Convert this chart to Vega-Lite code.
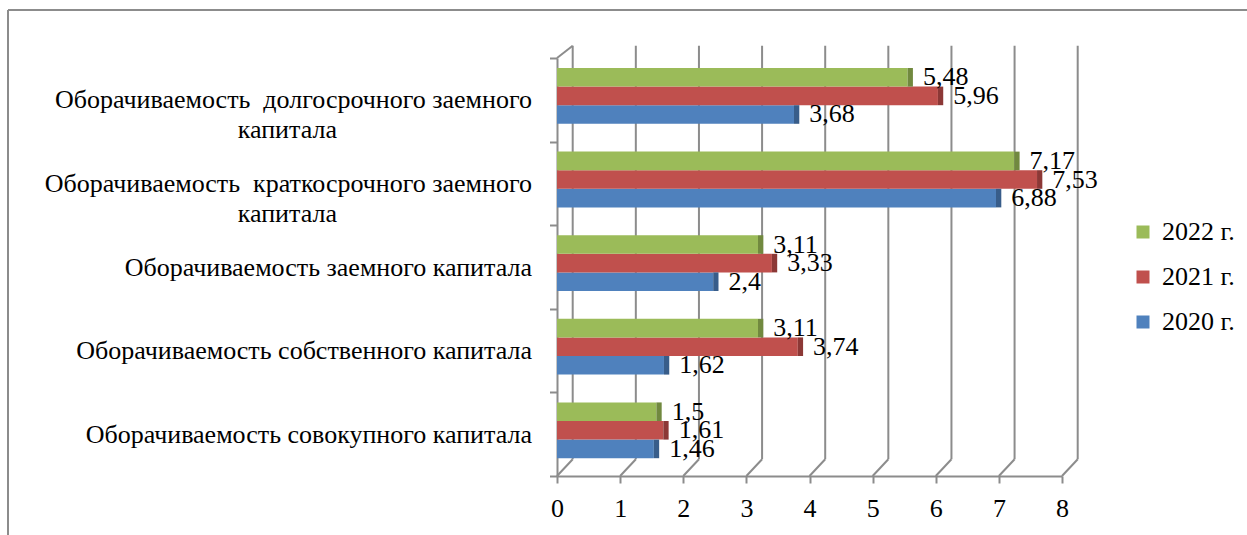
{
  "$schema": "https://vega.github.io/schema/vega-lite/v6.json",
  "width": 505,
  "height": 418,
  "autosize": "none",
  "padding": {"left": 557, "top": 58, "right": 185, "bottom": 59},
  "config": {
    "font": "Liberation Serif",
    "view": {"stroke": null},
    "locale": {"number": {"decimal": ",", "thousands": "\u00a0", "grouping": [3], "currency": ["", ""]}}
  },
  "layer": [
    {
      "data": {"values": [{"v": 0}]},
      "layer": [
        {
          "mark": {"type": "rule", "color": "#8c8c8c", "strokeWidth": 2, "xOffset": -549, "x2Offset": 185, "yOffset": -48},
          "encoding": {
            "x": {"value": 0},
            "x2": {"value": "width"},
            "y": {"value": 0}
          }
        },
        {
          "mark": {"type": "rule", "color": "#8c8c8c", "strokeWidth": 2, "xOffset": -549, "yOffset": -48, "y2Offset": 59},
          "encoding": {
            "x": {"value": 0},
            "y": {"value": 0},
            "y2": {"value": "height"}
          }
        },
        {
          "mark": {"type": "rule", "color": "#8c8c8c", "strokeWidth": 2, "x2Offset": 15.7, "y2Offset": -12.3},
          "encoding": {
            "x": {
              "field": "v",
              "type": "quantitative",
              "scale": {"domain": [0, 8], "nice": false},
              "axis": {
                "title": null,
                "values": [0, 1, 2, 3, 4, 5, 6, 7, 8],
                "grid": false,
                "tickSize": 7,
                "tickWidth": 2,
                "tickColor": "#8c8c8c",
                "domainColor": "#8c8c8c",
                "domainWidth": 2,
                "labelFont": "Liberation Serif",
                "labelFontSize": 26,
                "labelColor": "#000000",
                "labelPadding": 12,
                "labelFlush": false
              }
            },
            "x2": {"field": "v"},
            "y": {"value": 0},
            "y2": {"value": 0}
          }
        }
      ]
    },
    {
      "data": {"values": [{"v": 0}, {"v": 1}, {"v": 2}, {"v": 3}, {"v": 4}, {"v": 5}, {"v": 6}, {"v": 7}, {"v": 8}]},
      "layer": [
        {
          "mark": {"type": "rule", "color": "#8c8c8c", "strokeWidth": 2, "xOffset": 15.7, "yOffset": -12.3, "y2Offset": -16.7},
          "encoding": {
            "x": {
              "field": "v",
              "type": "quantitative",
              "axis": {
                "title": null,
                "values": [0, 1, 2, 3, 4, 5, 6, 7, 8],
                "grid": false,
                "tickSize": 7,
                "tickWidth": 2,
                "tickColor": "#8c8c8c",
                "domainColor": "#8c8c8c",
                "domainWidth": 2,
                "labelFont": "Liberation Serif",
                "labelFontSize": 26,
                "labelColor": "#000000",
                "labelPadding": 12,
                "labelFlush": false
              }
            },
            "y": {"value": 0},
            "y2": {"value": "height"}
          }
        },
        {
          "mark": {"type": "rule", "color": "#8c8c8c", "strokeWidth": 2, "x2Offset": 15.7, "y2Offset": -16.7},
          "encoding": {
            "x": {
              "field": "v",
              "type": "quantitative",
              "axis": {
                "title": null,
                "values": [0, 1, 2, 3, 4, 5, 6, 7, 8],
                "grid": false,
                "tickSize": 7,
                "tickWidth": 2,
                "tickColor": "#8c8c8c",
                "domainColor": "#8c8c8c",
                "domainWidth": 2,
                "labelFont": "Liberation Serif",
                "labelFontSize": 26,
                "labelColor": "#000000",
                "labelPadding": 12,
                "labelFlush": false
              }
            },
            "x2": {"field": "v"},
            "y": {"value": "height"},
            "y2": {"value": "height"}
          }
        }
      ]
    },
    {
      "data": {
        "values": [
          {"cat": "Оборачиваемость  долгосрочного заемного капитала", "year": "2020 г.", "value": 3.68},
          {"cat": "Оборачиваемость  долгосрочного заемного капитала", "year": "2021 г.", "value": 5.96},
          {"cat": "Оборачиваемость  долгосрочного заемного капитала", "year": "2022 г.", "value": 5.48},
          {"cat": "Оборачиваемость  краткосрочного заемного капитала", "year": "2020 г.", "value": 6.88},
          {"cat": "Оборачиваемость  краткосрочного заемного капитала", "year": "2021 г.", "value": 7.53},
          {"cat": "Оборачиваемость  краткосрочного заемного капитала", "year": "2022 г.", "value": 7.17},
          {"cat": "Оборачиваемость заемного капитала", "year": "2020 г.", "value": 2.4},
          {"cat": "Оборачиваемость заемного капитала", "year": "2021 г.", "value": 3.33},
          {"cat": "Оборачиваемость заемного капитала", "year": "2022 г.", "value": 3.11},
          {"cat": "Оборачиваемость собственного капитала", "year": "2020 г.", "value": 1.62},
          {"cat": "Оборачиваемость собственного капитала", "year": "2021 г.", "value": 3.74},
          {"cat": "Оборачиваемость собственного капитала", "year": "2022 г.", "value": 3.11},
          {"cat": "Оборачиваемость совокупного капитала", "year": "2020 г.", "value": 1.46},
          {"cat": "Оборачиваемость совокупного капитала", "year": "2021 г.", "value": 1.61},
          {"cat": "Оборачиваемость совокупного капитала", "year": "2022 г.", "value": 1.5}
        ]
      },
      "encoding": {
        "y": {
          "field": "cat",
          "type": "nominal",
          "sort": [
            "Оборачиваемость  долгосрочного заемного капитала",
            "Оборачиваемость  краткосрочного заемного капитала",
            "Оборачиваемость заемного капитала",
            "Оборачиваемость собственного капитала",
            "Оборачиваемость совокупного капитала"
          ],
          "scale": {"paddingInner": 0, "paddingOuter": 0},
          "axis": {
            "title": null,
            "tickBand": "extent",
            "tickSize": 7.5,
            "tickWidth": 2,
            "tickColor": "#8c8c8c",
            "domainColor": "#8c8c8c",
            "domainWidth": 2,
            "labelFont": "Liberation Serif",
            "labelFontSize": 26,
            "labelColor": "#000000",
            "labelAlign": "right",
            "labelBaseline": "middle",
            "labelLineHeight": 30,
            "labelPadding": 18,
            "labelLimit": 0,
            "labelExpr": "!isString(datum.value) ? '' : indexof(datum.value, '  ') >= 0 ? [replace(slice(datum.value, 0, lastindexof(datum.value, ' ')), '  ', '\u00a0 '), slice(datum.value, lastindexof(datum.value, ' ') + 1) + '\u00a0\u00a0\u00a0\u00a0\u00a0\u00a0\u00a0\u00a0\u00a0\u00a0\u00a0\u00a0\u00a0\u00a0\u00a0\u00a0\u00a0\u00a0\u00a0\u00a0\u00a0\u00a0\u00a0\u00a0\u00a0\u00a0\u00a0\u00a0\u00a0\u00a0\u200b'] : datum.value"
          }
        },
        "yOffset": {
          "field": "year",
          "type": "nominal",
          "sort": ["2022 г.", "2021 г.", "2020 г."],
          "scale": {"paddingInner": 0, "paddingOuter": 0.748, "align": 0.36}
        },
        "x": {
          "field": "value",
          "type": "quantitative",
          "stack": null,
          "scale": {"domain": [0, 8], "nice": false},
          "axis": {
            "title": null,
            "values": [0, 1, 2, 3, 4, 5, 6, 7, 8],
            "grid": false,
            "tickSize": 7,
            "tickWidth": 2,
            "tickColor": "#8c8c8c",
            "domainColor": "#8c8c8c",
            "domainWidth": 2,
            "labelFont": "Liberation Serif",
            "labelFontSize": 26,
            "labelColor": "#000000",
            "labelPadding": 12,
            "labelFlush": false
          }
        }
      },
      "layer": [
        {
          "mark": {"type": "bar", "xOffset": 4.7, "x2Offset": 4.7},
          "encoding": {
            "color": {
              "field": "year",
              "type": "nominal",
              "scale": {"domain": ["2022 г.", "2021 г.", "2020 г."], "range": ["#9BBB59", "#C0504D", "#4F81BD"]},
              "legend": {
                "orient": "none",
                "legendX": 573,
                "legendY": 161,
                "title": null,
                "padding": 0,
                "symbolType": "square",
                "symbolSize": 169,
                "symbolStrokeWidth": 0,
                "labelFont": "Liberation Serif",
                "labelFontSize": 26,
                "labelColor": "#000000",
                "labelOffset": 6,
                "rowPadding": 19
              }
            }
          }
        },
        {
          "mark": {"type": "bar", "xOffset": 4.7, "x2Offset": 10},
          "encoding": {
            "x2": {"field": "value"},
            "fill": {
              "condition": [
                {"test": "datum.year === '2022 г.'", "value": "#71893F"},
                {"test": "datum.year === '2021 г.'", "value": "#8C3836"}
              ],
              "value": "#385D8A"
            }
          }
        },
        {
          "mark": {"type": "text", "align": "left", "baseline": "middle", "dx": 20, "font": "Liberation Serif", "fontSize": 26, "color": "#000000"},
          "encoding": {
            "text": {"field": "value", "type": "quantitative", "format": ".2~f"}
          }
        }
      ]
    }
  ]
}
